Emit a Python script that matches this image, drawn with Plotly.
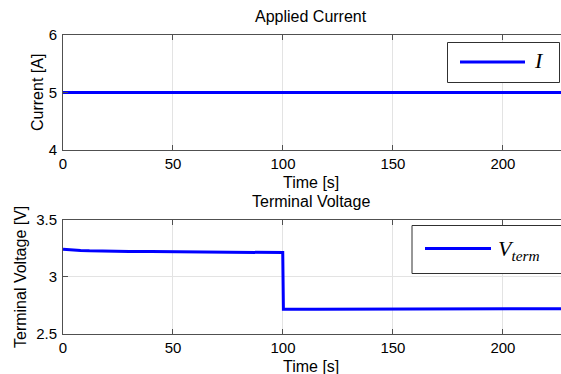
import plotly.graph_objects as go

# Applied current (constant 5 A)
t_current = [0, 50, 100, 150, 200, 226.4]
current = [5, 5, 5, 5, 5, 5]

# Terminal voltage response
t_voltage = [0, 2, 5, 8, 12, 16, 20, 25, 30, 40, 50, 60, 75, 90, 99.9, 100.2, 101, 105, 115, 130, 150, 175, 200, 226.4]
voltage = [3.240, 3.236, 3.232, 3.229, 3.226, 3.224, 3.223, 3.222, 3.221, 3.220, 3.219, 3.218, 3.216,
           3.213, 3.211, 2.716, 2.715, 2.716, 2.717, 2.718, 2.720, 2.721, 2.721, 2.721]

W, H = 561, 374
BLUE = "rgb(0,0,255)"
AX = "#505050"
GRID = "#e3e3e3"
FONT = "Liberation Sans, Arial, sans-serif"


def px(x):
    return x / W


def py(y):
    return 1 - y / H


fig = go.Figure()
fig.add_trace(go.Scatter(x=t_current, y=current, mode="lines",
                         line=dict(color=BLUE, width=3), xaxis="x", yaxis="y", showlegend=False))
fig.add_trace(go.Scatter(x=t_voltage, y=voltage, mode="lines",
                         line=dict(color=BLUE, width=3), xaxis="x2", yaxis="y2", showlegend=False))

xdom = [px(63), 1.0]
xcommon = dict(range=[0, 226.4], tickvals=[0, 50, 100, 150, 200], showline=True, linecolor=AX,
               linewidth=1, mirror="ticks", ticks="inside", ticklen=5, tickcolor=AX,
               showgrid=True, gridcolor=GRID, gridwidth=1, zeroline=False, automargin=False,
               tickfont=dict(family=FONT, size=15, color="black"), domain=xdom)
ycommon = dict(showline=True, linecolor=AX, linewidth=1, mirror=False, ticks="inside",
               ticklen=5, tickcolor=AX, showgrid=True, gridcolor=GRID, gridwidth=1,
               zeroline=False, automargin=False, ticklabelstandoff=2,
               tickfont=dict(family=FONT, size=15, color="black"))

fig.update_layout(
    width=W, height=H, margin=dict(l=0, r=0, t=0, b=0, autoexpand=False),
    paper_bgcolor="white", plot_bgcolor="white",
    xaxis=dict(xcommon, anchor="y"),
    yaxis=dict(ycommon, range=[4, 6], tickvals=[4, 5, 6], ticktext=["4", "5", "6"],
               domain=[py(150), py(35)], anchor="x"),
    xaxis2=dict(xcommon, anchor="y2"),
    yaxis2=dict(ycommon, range=[2.5, 3.5], tickvals=[2.5, 3, 3.5], ticktext=["2.5", "3", "3.5"],
                domain=[py(334), py(219.5)], anchor="x2"),
)

ann = []
def text(x, y, s, size=16, angle=0, family=FONT, xanchor="center"):
    ann.append(dict(x=px(x), y=py(y), xref="paper", yref="paper", text=s, showarrow=False,
                    font=dict(family=family, size=size, color="black"), textangle=angle,
                    xanchor=xanchor, yanchor="middle"))

text(311, 17, "Applied Current")
text(311, 183, "Time [s]")
text(37, 93, "Current [A]", angle=-90)
text(311, 201, "Terminal Voltage")
text(311, 366, "Time [s]")
text(20, 277, "Terminal Voltage [V]", angle=-90)

# legend boxes
shapes = [
    dict(type="rect", xref="paper", yref="paper", x0=px(447.5), x1=px(559.5), y0=py(82.5), y1=py(42.5),
         line=dict(color="#303030", width=1), fillcolor="white", layer="above"),
    dict(type="line", xref="paper", yref="paper", x0=px(460), x1=px(525), y0=py(62), y1=py(62),
         line=dict(color=BLUE, width=3), layer="above"),
    dict(type="rect", xref="paper", yref="paper", x0=px(412), x1=px(565), y0=py(273.5), y1=py(225.5),
         line=dict(color="#303030", width=1), fillcolor="white", layer="above"),
    dict(type="line", xref="paper", yref="paper", x0=px(425), x1=px(491), y0=py(248.5), y1=py(248.5),
         line=dict(color=BLUE, width=3), layer="above"),
]
SERIF = "Liberation Serif, Times New Roman, serif"
text(532, 61, "<i>I</i>", size=22, family=SERIF, xanchor="left")
text(496, 250, "<i>V</i><sub><i>term</i></sub>", size=22, family=SERIF, xanchor="left")

fig.update_layout(annotations=ann, shapes=shapes)
fig.write_html("out.html")
